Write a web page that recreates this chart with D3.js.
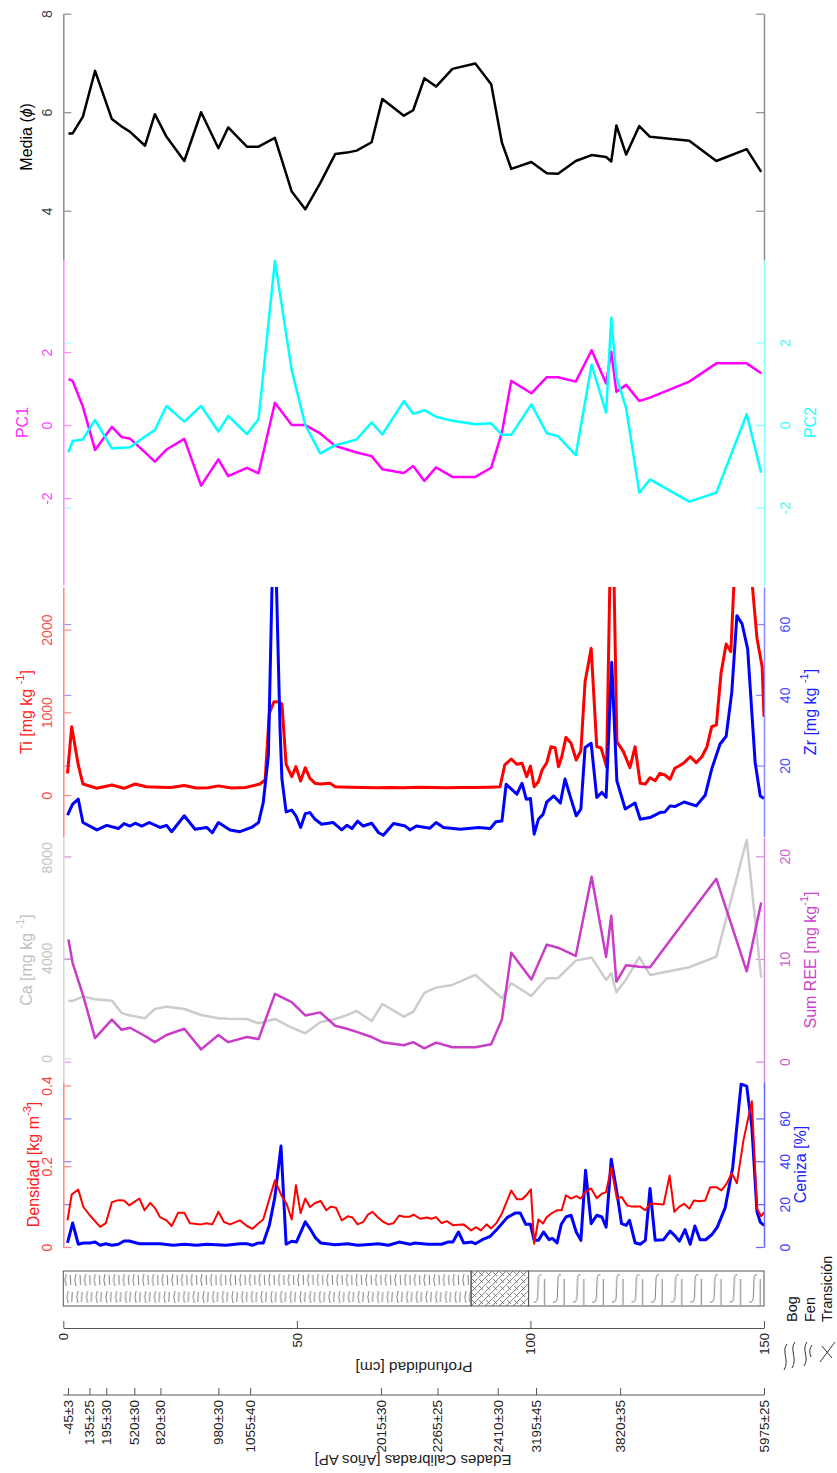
<!DOCTYPE html>
<html>
<head>
<meta charset="utf-8">
<script src="https://cdnjs.cloudflare.com/ajax/libs/d3/7.8.5/d3.min.js"></script>
<style>
  body { margin: 0; background: #fff; }
  svg { font-family: "Liberation Sans", Arial, sans-serif; }
</style>
</head>
<body>
<svg id="chart" width="837" height="1473"></svg>
<script>
// grain size / PCA / Ca / REE samples (depth in cm)
var gsDepth = [1.1, 2.0, 4.2, 6.8, 10.4, 12.5, 14.3, 17.5, 19.6, 22.1, 25.9, 29.5, 33.2, 35.3, 39.3,
  41.8, 45.3, 48.9, 51.8, 55.0, 58.2, 60.7, 62.8, 66.0, 68.3, 72.9, 74.9, 77.3, 79.8, 83.3,
  88.2, 91.6, 93.9, 95.9, 100.2, 103.5, 105.9, 109.7, 113.1, 116.2, 117.3, 118.4, 120.5, 123.3, 125.6,
  134.0, 139.8, 146.3, 149.4];
var media = [5.57, 5.57, 5.91, 6.84, 5.86, 5.71, 5.60, 5.32, 5.96, 5.50, 5.01, 6.00, 5.27, 5.69, 5.30,
  5.30, 5.48, 4.39, 4.03, 4.56, 5.15, 5.18, 5.22, 5.39, 6.27, 5.93, 6.04, 6.69, 6.52, 6.88,
  6.99, 6.57, 5.38, 4.85, 4.99, 4.76, 4.75, 5.01, 5.13, 5.09, 5.00, 5.73, 5.14, 5.72, 5.50,
  5.42, 5.01, 5.25, 4.79];
var pc1 = [1.26, 1.21, 0.50, -0.68, -0.05, -0.33, -0.37, -0.75, -1.00, -0.67, -0.38, -1.66, -0.94, -1.40, -1.17,
  -1.32, 0.61, 0.0, 0.0, -0.23, -0.57, -0.67, -0.75, -0.85, -1.21, -1.31, -1.12, -1.53, -1.16, -1.42,
  -1.42, -1.17, -0.20, 1.21, 0.87, 1.31, 1.31, 1.19, 2.05, 1.14, 2.01, 0.91, 1.10, 0.66, 0.75,
  1.19, 1.69, 1.69, 1.42];
var pc2 = [-0.66, -0.39, -0.35, 0.12, -0.57, -0.55, -0.54, -0.28, -0.12, 0.46, 0.08, 0.46, -0.16, 0.22, -0.22,
  0.14, 3.98, 1.33, 0.0, -0.69, -0.49, -0.42, -0.35, 0.06, -0.23, 0.58, 0.27, 0.36, 0.20, 0.10,
  0.02, 0.04, -0.24, -0.24, 0.50, -0.20, -0.27, -0.73, 1.46, 0.30, 2.60, 1.17, 0.40, -1.64, -1.32,
  -1.86, -1.64, 0.26, -1.16];
var ca = [2283, 2283, 2454, 2350, 2295, 1800, 1700, 1594, 1964, 2056, 1964, 1725, 1594, 1570, 1566,
  1394, 1566, 1219, 996, 1434, 1566, 1720, 1884, 1486, 2163, 1657, 1850, 2600, 2813, 2920,
  3319, 2770, 2390, 2988, 2482, 3187, 3187, 3888, 4008, 3120, 3386, 2629, 3147, 4024, 3319,
  3625, 4048, 8700, 3211];
var sumRee = [11.9, 9.6, 6.5, 2.3, 4.1, 3.1, 3.3, 2.5, 1.9, 2.6, 3.2, 1.2, 2.6, 1.9, 2.4,
  2.2, 6.6, 5.8, 4.5, 4.8, 3.5, 3.2, 2.9, 2.4, 1.9, 1.6, 1.9, 1.3, 1.85, 1.4,
  1.4, 1.7, 4.1, 10.6, 8.0, 11.4, 11.1, 10.3, 18.0, 10.2, 14.2, 7.8, 9.4, 9.25, 9.2,
  14.3, 17.8, 8.8, 15.5];

// Ti (mg/kg)
var tiDepth = [0.9, 1.8, 3.2, 4.2, 7.2, 10.4, 13.0, 15.4, 17.8, 20.5, 23.0, 25.9, 28.5, 31.0, 33.2,
  36.0, 39.0, 42.1, 43.2, 44.1, 45.1, 46.0, 46.8, 47.7, 48.9, 49.8, 50.8, 51.8, 52.8, 53.9,
  55.0, 57.1, 58.2, 61.0, 64.0, 67.0, 70.0, 73.0, 76.0, 79.0, 82.0, 85.0, 88.0, 91.0, 93.5,
  94.5, 95.9, 97.1, 98.2, 99.2, 100.0, 100.8, 101.7, 102.5, 103.5, 104.4, 105.3, 106.0, 106.7, 107.6,
  108.7, 109.8, 110.8, 111.7, 113.0, 114.2, 115.1, 116.3, 117.1, 117.8, 118.5, 119.9, 121.3, 122.4, 123.5,
  124.6, 125.6, 126.7, 127.7, 128.8, 129.9, 130.9, 131.9, 132.9, 134.2, 135.5, 136.7, 137.8, 138.8, 139.8,
  140.8, 141.9, 142.9, 143.6, 147.4, 148.5, 149.6, 150.0];
var ti = [262, 826, 363, 133, 81, 121, 81, 133, 100, 95, 90, 115, 85, 88, 110,
  85, 90, 133, 181, 988, 1128, 1128, 1100, 371, 221, 343, 169, 330, 201, 141,
  133, 141, 100, 95, 90, 88, 92, 88, 95, 90, 88, 92, 90, 95, 100,
  363, 435, 371, 383, 221, 350, 100, 161, 302, 391, 584, 572, 342, 463, 697,
  625, 423, 536, 1370, 1773, 584, 572, 342, 2900, 2900, 645, 524, 330, 584, 141,
  133, 209, 173, 262, 242, 190, 323, 354, 391, 463, 391, 463, 584, 826, 846,
  1471, 1826, 1733, 2600, 2600, 1894, 1551, 947];

// Zr (mg/kg)
var zrDepth = [0.9, 2.0, 3.2, 4.2, 7.2, 9.3, 11.8, 13.0, 14.3, 15.4, 16.8, 18.4, 20.7, 22.1, 23.2,
  25.9, 28.2, 30.7, 31.9, 33.2, 35.7, 37.8, 40.3, 41.8, 42.8, 43.9, 44.8, 45.5, 46.4, 46.8,
  47.7, 48.9, 49.8, 50.8, 51.8, 52.8, 53.9, 55.3, 57.8, 59.6, 60.7, 61.8, 63.0, 64.2, 66.0,
  67.5, 68.5, 70.7, 73.2, 74.2, 75.6, 78.5, 79.8, 81.4, 85.0, 88.9, 91.4, 92.6, 93.9, 94.8,
  97.1, 98.2, 99.1, 100.0, 100.8, 101.7, 102.7, 103.5, 105.0, 106.4, 107.4, 108.7, 109.8, 110.8, 111.7,
  113.0, 114.2, 115.3, 116.2, 117.4, 118.5, 120.3, 122.4, 123.5, 125.6, 127.7, 128.8, 129.9, 130.9, 132.9,
  135.5, 137.4, 138.8, 140.6, 141.9, 143.1, 144.2, 145.3, 146.5, 148.1, 149.2, 150.0];
var zr = [6.0, 9.1, 10.5, 3.9, 1.8, 3.1, 2.2, 3.6, 2.9, 3.7, 2.9, 3.9, 2.5, 3.1, 1.3,
  5.8, 2.0, 2.5, 1.0, 3.9, 1.8, 1.3, 2.5, 3.9, 9.5, 22.8, 78, 78, 30.3, 16.2,
  6.9, 7.4, 5.8, 2.5, 6.4, 6.7, 4.8, 3.4, 3.9, 1.8, 3.1, 2.2, 4.3, 2.9, 3.7,
  1.0, 0.3, 3.6, 2.9, 1.8, 2.9, 2.3, 3.9, 2.5, 2.0, 2.5, 2.2, 4.1, 4.3, 14.7,
  11.9, 15.0, 10.5, 10.7, 0.6, 4.8, 6.2, 9.7, 11.4, 9.4, 16.2, 10.5, 5.8, 7.7, 25.1,
  26.3, 11.0, 12.4, 11.0, 49.2, 15.7, 7.7, 9.4, 4.8, 5.3, 6.7, 6.9, 8.6, 8.4, 9.7,
  8.6, 11.6, 19.0, 26.1, 28.3, 40.7, 62.4, 60.1, 53.0, 20.9, 11.4, 10.7];

// bulk density (kg m-3) and ash (%)
var denDepth = [0.9, 1.8, 3.2, 4.3, 5.7, 7.9, 9.1, 10.4, 11.8, 13.0, 14.1, 16.3, 17.4, 18.6, 19.6,
  20.7, 22.1, 23.2, 24.6, 25.9, 27.1, 29.5, 30.7, 31.9, 33.2, 34.4, 35.7, 37.8, 39.3, 40.5,
  41.8, 42.8, 45.3, 46.8, 47.8, 48.9, 49.8, 50.8, 51.8, 52.8, 53.9, 55.1, 56.3, 57.3, 58.4,
  59.6, 60.9, 61.9, 63.0, 64.2, 65.2, 66.2, 67.5, 68.5, 69.6, 70.7, 71.9, 72.9, 74.2, 75.0,
  76.4, 77.8, 78.8, 79.8, 81.0, 82.1, 83.4, 84.6, 85.7, 87.3, 88.3, 89.4, 90.6, 91.6, 92.7,
  93.9, 95.9, 97.1, 98.2, 99.1, 100.1, 100.8, 101.7, 102.7, 103.5, 104.5, 105.7, 106.7, 107.6, 108.7,
  109.8, 110.8, 111.7, 113.0, 114.2, 115.3, 116.2, 117.3, 118.5, 119.5, 120.7, 121.7, 123.5, 124.6, 125.6,
  126.7, 128.5, 129.8, 130.8, 131.9, 132.9, 134.0, 135.0, 136.2, 137.4, 138.5, 139.8, 140.9, 142.0, 143.1,
  144.2, 145.6, 147.4, 148.5, 149.4, 150.0];
var densidad = [0.066, 0.130, 0.142, 0.099, 0.078, 0.050, 0.059, 0.111, 0.116, 0.115, 0.103, 0.120, 0.091, 0.109, 0.097,
  0.074, 0.066, 0.052, 0.085, 0.085, 0.059, 0.056, 0.059, 0.056, 0.087, 0.062, 0.056, 0.066, 0.052, 0.045,
  0.059, 0.068, 0.165, 0.125, 0.107, 0.068, 0.153, 0.084, 0.120, 0.099, 0.109, 0.114, 0.091, 0.100, 0.097,
  0.066, 0.076, 0.073, 0.056, 0.062, 0.080, 0.087, 0.072, 0.062, 0.056, 0.059, 0.078, 0.075, 0.075, 0.080,
  0.070, 0.073, 0.070, 0.074, 0.059, 0.064, 0.054, 0.055, 0.056, 0.041, 0.049, 0.041, 0.056, 0.046, 0.059,
  0.083, 0.140, 0.118, 0.118, 0.128, 0.143, 0.008, 0.068, 0.058, 0.074, 0.083, 0.091, 0.091, 0.128, 0.120,
  0.126, 0.120, 0.136, 0.145, 0.121, 0.132, 0.136, 0.197, 0.120, 0.124, 0.103, 0.100, 0.100, 0.091, 0.107,
  0.107, 0.105, 0.177, 0.087, 0.100, 0.107, 0.095, 0.115, 0.113, 0.115, 0.148, 0.148, 0.140, 0.157, 0.183,
  0.158, 0.264, 0.361, 0.095, 0.076, 0.086];
var ashDepth = [0.9, 2.0, 3.2, 4.3, 5.7, 6.8, 7.9, 9.1, 10.4, 11.8, 13.0, 14.1, 16.3, 18.6, 20.7,
  23.5, 25.9, 28.5, 30.7, 34.8, 37.8, 39.3, 40.5, 41.8, 42.8, 44.1, 45.3, 46.6, 47.7, 48.9,
  49.9, 51.8, 52.8, 53.9, 55.1, 58.2, 60.9, 63.0, 66.2, 67.5, 69.6, 71.9, 74.2, 75.3, 78.0,
  81.0, 82.3, 83.4, 84.6, 85.7, 87.5, 88.2, 89.7, 91.4, 93.0, 95.0, 96.8, 97.8, 99.0, 100.0,
  100.8, 101.7, 102.8, 104.0, 104.7, 105.7, 106.6, 107.6, 108.7, 109.8, 110.8, 111.8, 113.0, 114.2, 115.3,
  116.2, 117.3, 118.5, 119.5, 120.5, 121.2, 122.4, 123.5, 124.6, 125.6, 126.7, 128.5, 129.9, 130.9, 131.9,
  133.1, 134.2, 135.2, 136.3, 137.5, 138.8, 140.0, 141.7, 143.3, 145.1, 146.3, 147.4, 148.5, 149.2, 150.0];
var ceniza = [1.9, 11.2, 1.3, 1.9, 1.9, 2.3, 0.8, 1.5, 0.8, 1.3, 2.8, 2.8, 1.5, 1.5, 1.5,
  0.8, 1.3, 0.8, 1.3, 0.8, 1.5, 1.5, 0.8, 1.9, 1.9, 10.1, 23.4, 47.1, 1.3, 2.7,
  2.3, 11.7, 8.6, 4.5, 1.9, 1.0, 1.5, 0.8, 1.3, 1.5, 0.8, 2.3, 1.3, 1.9, 1.3,
  1.3, 2.3, 2.3, 7.0, 1.9, 2.3, 1.5, 3.4, 5.0, 8.6, 13.7, 15.9, 15.9, 10.6, 10.6,
  3.1, 3.1, 7.0, 3.4, 4.0, 1.9, 10.6, 14.0, 14.8, 7.0, 3.1, 35.8, 10.9, 14.8, 14.0,
  9.3, 41.0, 25.5, 10.9, 10.1, 12.5, 2.0, 1.3, 3.1, 27.3, 3.1, 3.4, 7.4, 5.3, 2.7,
  8.1, 1.3, 9.8, 3.4, 3.4, 5.7, 9.3, 18.4, 37.0, 76.0, 75.1, 56.0, 16.4, 11.6, 10.1];

// radiocarbon ages (cal yr BP) at depth
var ageDepth = [1.0, 5.6, 9.2, 15.2, 20.8, 33.2, 40.0, 68.0, 80.1, 93.0, 101.2, 119.2, 150.0];
var ageLabels = ['-45±3', '135±25', '195±30', '520±30', '820±30', '980±30', '1055±40',
  '2015±30', '2265±25', '2410±30', '3195±45', '3820±35', '5975±25'];

// lithology units
var unitTop = [0, 87.3, 99.6];
var unitBottom = [87.3, 99.6, 150];
var unitType = ['bog', 'trans', 'fen'];

var svg = d3.select('#chart');
var defs = svg.append('defs');

var x = d3.scaleLinear().domain([0, 150]).range([63.3, 764]);
var plain = function(d) { return String(d); };

// panel layout (y extents in px, value domains matching the tick positions)
var panels = [
  { name: 'media', top: 13.7, bottom: 260,
    left: { domain: [3, 8], ticks: [4, 6, 8], axis: '#8c8c8c', label: '#444',
      title: [['Media ('], ['ϕ', 'it'], [')']], tColor: '#000', tx: 26 },
    right: { domain: [3, 8], ticks: [4, 6, 8], axis: '#8c8c8c', noLabels: true },
    series: [{ d: gsDepth, v: media, side: 'left', color: '#000', w: 2.5 }] },
  { name: 'pc', top: 260, bottom: 585,
    left: { domain: [-4.38, 4.52], ticks: [-2, 0, 2], axis: '#ff88ff', label: '#ff44ff',
      title: [['PC1']], tColor: '#ff33ff', tx: 22 },
    right: { domain: [-3.88, 4.0], ticks: [-2, 0, 2], axis: '#88ffff', label: '#33ffff',
      title: [['PC2']], tColor: '#22ffff', tx: 810, mirror: true },
    series: [{ d: gsDepth, v: pc1, side: 'left', color: '#ff00ff', w: 2.5 },
             { d: gsDepth, v: pc2, side: 'right', color: '#00ffff', w: 2.5 }] },
  { name: 'tizr', top: 587, bottom: 837,
    left: { domain: [-508, 2515], ticks: [0, 1000, 2000], axis: '#ff8888', label: '#ff4d4d',
      title: [['Ti [mg kg '], ['-1', 'sup'], [']']], tColor: '#ff2020', tx: 26 },
    right: { domain: [-0.2, 70.5], ticks: [20, 40, 60], axis: '#8888ff', label: '#4d4dff',
      title: [['Zr [mg kg '], ['-1', 'sup'], [']']], tColor: '#2020ff', tx: 810, mirror: true },
    series: [{ d: tiDepth, v: ti, side: 'left', color: '#ff0000', w: 3 },
             { d: zrDepth, v: zr, side: 'right', color: '#0000ff', w: 3 }] },
  { name: 'caree', top: 838, bottom: 1082,
    left: { domain: [-943, 8768], ticks: [0, 4000, 8000], axis: '#d6d6d6', label: '#c4c4c4',
      title: [['Ca [mg kg '], ['-1', 'sup'], [']']], tColor: '#c0c0c0', tx: 26 },
    right: { domain: [-1.98, 21.78], ticks: [0, 10, 20], axis: '#dd88dd', label: '#d060d0',
      title: [['Sum REE [mg kg'], ['-1', 'sup'], [']']], tColor: '#cc44cc', tx: 810, mirror: true },
    series: [{ d: gsDepth, v: ca, side: 'left', color: '#cccccc', w: 2.5 },
             { d: gsDepth, v: sumRee, side: 'right', color: '#c83cc8', w: 2.5 }] },
  { name: 'den', top: 1082, bottom: 1247,
    left: { domain: [0, 0.4085], ticks: [0, 0.2, 0.4], axis: '#ff8888', label: '#ff4040',
      title: [['Densidad [kg m'], ['-3', 'sup'], [']']], tColor: '#ff2020', tx: 33 },
    right: { domain: [0, 77], ticks: [0, 20, 40, 60], axis: '#6666ff', label: '#4040ff',
      title: [['Ceniza [%]']], tColor: '#2020ff', tx: 800, mirror: true },
    series: [{ d: ashDepth, v: ceniza, side: 'right', color: '#0000ff', w: 3 },
             { d: denDepth, v: densidad, side: 'left', color: '#ff0000', w: 2 }] }
];

function addTitle(g, tx, ty, parts, color, rot) {
  var t = g.append('text')
    .attr('transform', 'translate(' + tx + ',' + ty + ') rotate(' + rot + ')')
    .attr('text-anchor', 'middle')
    .attr('dominant-baseline', 'central')
    .attr('font-size', 16)
    .attr('fill', color);
  parts.forEach(function(p) {
    var s = t.append('tspan').text(p[0]);
    if (p[1] == 'sup') s.attr('baseline-shift', 'super').attr('font-size', 11);
    if (p[1] == 'it') s.attr('font-style', 'italic');
  });
}

function styleLabels(axG, dx, color) {
  axG.selectAll('.tick text')
    .attr('x', 0).attr('y', 0).attr('dy', null)
    .attr('transform', 'translate(' + dx + ',0) rotate(-90)')
    .attr('text-anchor', 'middle')
    .attr('dominant-baseline', 'central')
    .attr('font-size', 14)
    .attr('fill', color);
}

panels.forEach(function(p) {
  var g = svg.append('g');
  var yL = d3.scaleLinear().domain(p.left.domain).range([p.bottom, p.top]);
  var yR = d3.scaleLinear().domain(p.right.domain).range([p.bottom, p.top]);

  defs.append('clipPath').attr('id', 'clip-' + p.name)
    .append('rect')
    .attr('x', x(0)).attr('y', p.top)
    .attr('width', x(150) - x(0)).attr('height', p.bottom - p.top);

  // mirrored right-axis ticks on the left spine
  if (p.right.mirror) {
    var m = g.append('g').attr('transform', 'translate(' + x(0) + ',0)')
      .call(d3.axisRight(yR).tickValues(p.right.ticks).tickSize(8).tickFormat(''));
    m.select('.domain').remove();
    m.selectAll('.tick line').attr('stroke', p.right.axis);
  }

  // left axis, ticks pointing inward
  var aL = g.append('g').attr('transform', 'translate(' + x(0) + ',0)')
    .call(d3.axisRight(yL).tickValues(p.left.ticks).tickFormat(plain).tickSize(8).tickSizeOuter(0));
  aL.select('.domain').attr('stroke', p.left.axis).attr('stroke-width', 1.5);
  aL.selectAll('.tick line').attr('stroke', p.left.axis).attr('stroke-width', 1.2);
  styleLabels(aL, -16, p.left.label);

  // right axis
  var aR = g.append('g').attr('transform', 'translate(' + x(150) + ',0)')
    .call(d3.axisLeft(yR).tickValues(p.right.ticks).tickFormat(plain).tickSize(8).tickSizeOuter(0));
  aR.select('.domain').attr('stroke', p.right.axis).attr('stroke-width', 1.5);
  aR.selectAll('.tick line').attr('stroke', p.right.axis).attr('stroke-width', 1.2);
  if (p.right.noLabels) aR.selectAll('.tick text').remove();
  else styleLabels(aR, 21, p.right.label);

  p.series.forEach(function(s) {
    var y = s.side == 'right' ? yR : yL;
    var line = d3.line()
      .x(function(d) { return x(d[0]); })
      .y(function(d) { return y(d[1]); });
    g.append('path')
      .datum(d3.zip(s.d, s.v))
      .attr('d', line)
      .attr('clip-path', 'url(#clip-' + p.name + ')')
      .attr('fill', 'none')
      .attr('stroke', s.color)
      .attr('stroke-width', s.w)
      .attr('stroke-linejoin', 'round');
  });

  var mid = (p.top + p.bottom) / 2;
  addTitle(g, p.left.tx, mid, p.left.title, p.left.tColor, -90);
  if (p.right.title) addTitle(g, p.right.tx, mid, p.right.title, p.right.tColor, -90);
});

// ---- lithology column ----
var colTop = 1271, colBot = 1306;

var pBog = defs.append('pattern').attr('id', 'pat-bog')
  .attr('patternUnits', 'userSpaceOnUse')
  .attr('x', x(0)).attr('y', colTop).attr('width', 9.7).attr('height', colBot - colTop);
pBog.append('path')
  .attr('d', 'M3,3 Q0.5,9 3,15 M7,4 L7.5,14 M5,20 Q2.5,26 5,32 M9,21 L8.5,31')
  .attr('fill', 'none').attr('stroke', '#444').attr('stroke-width', 0.7);

var pFen = defs.append('pattern').attr('id', 'pat-fen')
  .attr('patternUnits', 'userSpaceOnUse')
  .attr('x', x(99.6)).attr('y', colTop).attr('width', 19.6).attr('height', colBot - colTop);
pFen.append('path')
  .attr('d', 'M16,8 L16,34 M13,4 C9,2 10,10 9.5,17 C9,26 10,32 5,31')
  .attr('fill', 'none').attr('stroke', '#444').attr('stroke-width', 0.7);

var pTr = defs.append('pattern').attr('id', 'pat-trans')
  .attr('patternUnits', 'userSpaceOnUse')
  .attr('x', x(87.3)).attr('y', colTop).attr('width', 7).attr('height', 7);
pTr.append('path')
  .attr('d', 'M0,7 L7,0 M1,1 L5,5 M-1,1 L1,-1 M6,8 L8,6')
  .attr('fill', 'none').attr('stroke', '#444').attr('stroke-width', 0.7);

var lith = svg.append('g');
lith.selectAll('rect.unit')
  .data(d3.range(unitType.length))
  .enter().append('rect')
  .attr('class', 'unit')
  .attr('x', function(i) { return x(unitTop[i]); })
  .attr('y', colTop)
  .attr('width', function(i) { return x(unitBottom[i]) - x(unitTop[i]); })
  .attr('height', colBot - colTop)
  .attr('fill', function(i) { return 'url(#pat-' + unitType[i] + ')'; })
  .attr('stroke', '#555')
  .attr('stroke-width', 1);

// legend
var leg = svg.append('g').attr('fill', 'none').attr('stroke', '#333').attr('stroke-width', 1);
leg.append('path').attr('d', 'M787,1344 C781,1351 790,1361 784,1370 M795,1342 C789,1349 798,1359 792,1368');
leg.append('path').attr('d', 'M807,1342 C801,1350 810,1358 804,1366 M812,1345 Q808,1350 811,1357');
leg.append('path').attr('d', 'M820,1362 L835,1342 M822,1346 L832,1358');
var legNames = ['Bog', 'Fen', 'Transición'];
var legX = [792, 810, 827];
svg.selectAll('text.leg')
  .data(legNames)
  .enter().append('text')
  .attr('class', 'leg')
  .attr('transform', function(d, i) { return 'translate(' + legX[i] + ',1322) rotate(-90)'; })
  .attr('dominant-baseline', 'central')
  .attr('font-size', 14.5)
  .attr('fill', '#111')
  .text(function(d) { return d; });

// ---- depth axis ----
var depthAx = svg.append('g').attr('transform', 'translate(0,1328)')
  .call(d3.axisTop(x).tickValues([0, 50, 100, 150]).tickSize(7).tickSizeOuter(0));
depthAx.select('.domain').attr('stroke', '#555');
depthAx.selectAll('.tick line').attr('stroke', '#555');
depthAx.selectAll('.tick text')
  .attr('x', 0).attr('y', 0).attr('dy', null)
  .attr('transform', 'translate(0,5) rotate(-90)')
  .attr('text-anchor', 'end')
  .attr('dominant-baseline', 'central')
  .attr('font-size', 13)
  .attr('fill', '#222');

svg.append('text')
  .attr('transform', 'translate(414,1367) rotate(180)')
  .attr('text-anchor', 'middle').attr('dominant-baseline', 'central')
  .attr('font-size', 15.5).attr('fill', '#222')
  .text('Profundidad [cm]');

// ---- age axis ----
var ageAx = svg.append('g').attr('transform', 'translate(0,1395)')
  .call(d3.axisTop(x).tickValues(ageDepth).tickSize(7).tickSizeOuter(0)
    .tickFormat(function(d, i) { return ageLabels[i]; }));
ageAx.select('.domain').attr('stroke', '#555').attr('d', 'M' + x(0) + ',0H' + x(150));
ageAx.selectAll('.tick line').attr('stroke', '#555');
ageAx.selectAll('.tick text')
  .attr('x', 0).attr('y', 0).attr('dy', null)
  .attr('transform', 'translate(0,5) rotate(-90)')
  .attr('text-anchor', 'end')
  .attr('dominant-baseline', 'central')
  .attr('font-size', 13.5)
  .attr('fill', '#222');

svg.append('text')
  .attr('transform', 'translate(413,1460) rotate(180)')
  .attr('text-anchor', 'middle').attr('dominant-baseline', 'central')
  .attr('font-size', 15).attr('fill', '#222')
  .text('Edades Calibradas [Años AP]');
</script>
</body>
</html>
